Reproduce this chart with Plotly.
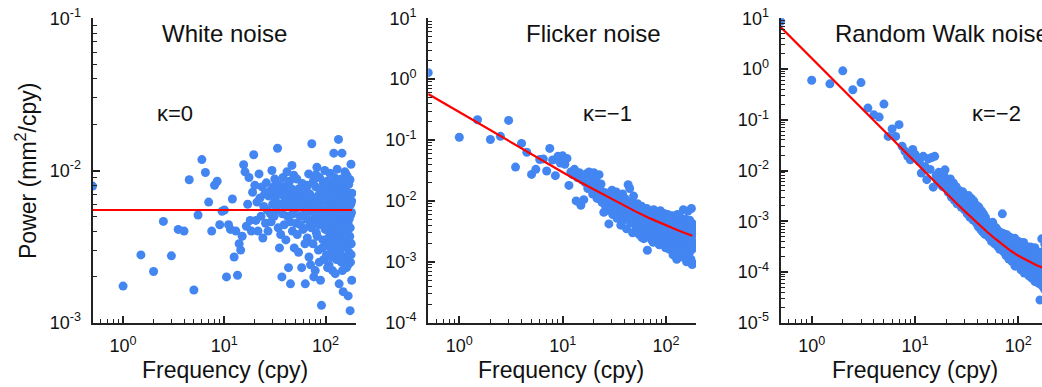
import plotly.graph_objects as go

# ---------------- shared frequency grid (cpy) ----------------
F_LOW = [0.5, 1.0, 1.5, 2.0, 2.5, 3.0, 3.5, 4.0, 4.5, 5.0, 5.5, 6.0, 6.5, 7.0, 7.5, 8.0, 8.5, 9.0, 9.5, 10.0,
         10.5, 11.0, 11.5, 12.0, 12.5, 13.0, 13.5, 14.0, 14.5, 15.0, 15.5, 16.0, 16.5, 17.0, 17.5, 18.0, 18.5, 19.0, 19.5, 20.0,
         20.5, 21.0, 21.5, 22.0, 22.5, 23.0, 23.5, 24.0, 24.5, 25.0, 25.5, 26.0, 26.5, 27.0, 27.5, 28.0, 28.5, 29.0, 29.5, 30.0,
         30.5, 31.0, 31.5, 32.0, 32.5, 33.0, 33.5, 34.0, 34.5, 35.0, 35.5, 36.0, 36.5, 37.0, 37.5, 38.0, 38.5, 39.0, 39.5, 40.0,
         40.5, 41.0, 41.5, 42.0, 42.5, 43.0, 43.5, 44.0, 44.5, 45.0, 45.5, 46.0, 46.5, 47.0, 47.5, 48.0, 48.5, 49.0, 49.5, 50.0]
F_HI = [51, 52, 53, 54, 55, 56, 57, 58, 59, 60, 61, 62, 63, 64, 65, 66, 67, 68, 69, 70,
        71, 72, 73, 74, 75, 76, 77, 78, 79, 80, 81, 82, 83, 84, 85, 86, 87, 88, 89, 90,
        91, 92, 93, 94, 95, 96, 97, 98, 99, 100]
F_HI_HALF = [50.5, 52.5, 54.5, 56.5, 58.5, 60.5, 62.5, 64.5, 66.5, 68.5, 70.5, 72.5, 74.5,
             76.5, 78.5, 80.5, 82.5, 84.5, 86.5, 88.5, 90.5, 92.5, 94.5, 96.5, 98.5]
F_TOP = [101, 102, 103, 104, 105, 106, 107, 108, 109, 110, 111, 112, 113, 114, 115, 116, 117, 118, 119, 120,
         121, 122, 123, 124, 125, 126, 127, 128, 129, 130, 131, 132, 133, 134, 135, 136, 137, 138, 139, 140,
         141, 142, 143, 144, 145, 146, 147, 148, 149, 150, 151, 152, 153, 154, 155, 156, 157, 158, 159, 160,
         161, 162, 163, 164, 165, 166, 167, 168, 169, 170, 171, 172, 173, 174, 175, 176, 177, 178, 179, 180,
         181, 182]
F_TOP_HALF = [100.5, 102.5, 104.5, 106.5, 108.5, 110.5, 112.5, 114.5, 116.5, 118.5,
              120.5, 122.5, 124.5, 126.5, 128.5, 130.5, 132.5, 134.5, 136.5, 138.5,
              140.5, 142.5, 144.5, 146.5, 148.5, 150.5, 152.5, 154.5, 156.5, 158.5,
              160.5, 162.5, 164.5, 166.5, 168.5, 170.5, 172.5, 174.5, 176.5, 178.5, 180.5]

# ---------------- White noise power (mm^2/cpy) ----------------
white_low = [0.0079, 0.00174, 0.00279, 0.00217, 0.00463, 0.00275, 0.0041, 0.0040, 0.0087, 0.00164,
             0.0051, 0.0118, 0.0097, 0.0062, 0.0040, 0.0080, 0.0085, 0.0044, 0.0054, 0.0055,
             0.0020, 0.0044, 0.0041, 0.0065, 0.0027, 0.0040, 0.00205, 0.0033, 0.0030, 0.0037,
             0.0109, 0.0098, 0.0043, 0.0060, 0.0090, 0.0047, 0.0040, 0.0072, 0.0127, 0.0080,
             0.0047, 0.0062, 0.0040, 0.0095,
             0.0066, 0.0050, 0.0078, 0.0036, 0.0058, 0.0070, 0.0045, 0.0083, 0.0055, 0.0040,
             0.0068, 0.0073, 0.0052, 0.0046, 0.0100, 0.0060, 0.0078, 0.0050, 0.0088, 0.0066,
             0.0055, 0.0072, 0.0140, 0.0042, 0.0081, 0.0031,
             0.0060, 0.0038, 0.0074, 0.0020, 0.0052, 0.0090, 0.0068, 0.0044, 0.0058, 0.0079,
             0.0035, 0.0064, 0.0098, 0.0050, 0.0071, 0.0023, 0.0062, 0.0085, 0.0046, 0.0018,
             0.0057, 0.0076, 0.0108, 0.0040, 0.0067, 0.0052, 0.0093, 0.0031, 0.0061, 0.0072]
white_hi = [0.0045, 0.0088, 0.0057, 0.0029, 0.0070, 0.0050, 0.0063, 0.0023, 0.0082, 0.0041,
            0.0066, 0.0055, 0.0018, 0.0075, 0.0048, 0.0036, 0.0060, 0.0095, 0.0043, 0.0070,
            0.0024, 0.0054, 0.0150, 0.0065, 0.0033, 0.0086, 0.0047, 0.0059, 0.0022, 0.0078,
            0.0039, 0.0105, 0.0052, 0.0068, 0.0030, 0.0044, 0.0090, 0.0057, 0.0019, 0.0072,
            0.0013, 0.0048, 0.0063, 0.0035, 0.0083, 0.0026, 0.0055, 0.0100, 0.0041, 0.0067]
white_hi_half = [0.0062, 0.0038, 0.0076, 0.0044, 0.0058, 0.0071, 0.0033, 0.0050, 0.0080, 0.0027,
                 0.0056, 0.0042, 0.0061, 0.0020, 0.0049, 0.0094, 0.0037, 0.0060, 0.0025, 0.0074,
                 0.0051, 0.0031, 0.0066, 0.0045, 0.0032]
white_top = [0.0052, 0.0028, 0.0085, 0.0045, 0.0061, 0.0036, 0.0073, 0.0024, 0.0057, 0.0096,
             0.0040, 0.0066, 0.0031, 0.0050, 0.0080, 0.0043, 0.0022, 0.0059, 0.0070, 0.0035,
             0.0047, 0.0090, 0.0029, 0.0063, 0.0054, 0.0038, 0.0076, 0.0026, 0.0049, 0.0102,
             0.0042, 0.0068, 0.0033, 0.0160, 0.0056, 0.0018, 0.0046, 0.0078, 0.0030, 0.0061,
             0.0040, 0.0088, 0.0025, 0.0052, 0.0130, 0.0036, 0.0071, 0.0047, 0.0016, 0.0058,
             0.0083, 0.0032, 0.0065, 0.0043, 0.0098, 0.0027, 0.0055, 0.0074, 0.0038, 0.0062,
             0.0023, 0.0050, 0.0092, 0.0034, 0.0068, 0.0045, 0.0015, 0.0057, 0.0081, 0.0029,
             0.0048, 0.0065, 0.0037, 0.0087, 0.0042, 0.0025, 0.0060, 0.0110, 0.0033, 0.0053,
             0.0019, 0.0071]
white_top_half = [0.0079, 0.0041, 0.0023, 0.0064, 0.0047, 0.0033, 0.0055, 0.0027, 0.0072, 0.0039,
                  0.0130, 0.0050, 0.0021, 0.0058, 0.0085, 0.0031, 0.0046, 0.0066, 0.0040, 0.0028,
                  0.0052, 0.0036, 0.0075, 0.0022, 0.0044, 0.0035, 0.0060, 0.0026, 0.0048, 0.0095,
                  0.0039, 0.0031, 0.0056, 0.0024, 0.0042, 0.0069, 0.0034, 0.0012, 0.0051, 0.0028,
                  0.0063]

# ---------------- Flicker noise power ----------------
flicker_low = [1.28, 0.111, 0.216, 0.102, 0.115, 0.21, 0.036, 0.088, 0.063, 0.0273,
               0.033, 0.048, 0.049, 0.031, 0.073, 0.047, 0.026, 0.054, 0.042,
               0.055, 0.040, 0.050, 0.018, 0.030, 0.027, 0.033, 0.010, 0.024, 0.029,
               0.0085, 0.022, 0.0105, 0.020, 0.028, 0.016, 0.030, 0.019, 0.024, 0.013,
               0.029, 0.017, 0.022, 0.011, 0.015, 0.027, 0.012, 0.019, 0.0095, 0.014, 0.0065,
               0.0105, 0.0082, 0.0135, 0.0070, 0.0112, 0.0042, 0.0090, 0.0125, 0.0078, 0.0150,
               0.0060, 0.0100, 0.0085, 0.0115, 0.0067, 0.0140, 0.0052, 0.0093, 0.0074, 0.0122,
               0.0058, 0.0088, 0.0040, 0.0102, 0.0069, 0.0130, 0.0048, 0.0081, 0.0062, 0.0110,
               0.0055, 0.0075, 0.0035, 0.0095, 0.0065, 0.0185, 0.0050, 0.0083, 0.0160, 0.0060,
               0.0044, 0.0072, 0.0098, 0.0054, 0.0030, 0.0068, 0.0120, 0.0047, 0.0078, 0.0058]
flicker_hi = [0.0038, 0.0070, 0.0090, 0.0046, 0.0028, 0.0063, 0.0052, 0.0082, 0.0036, 0.0057,
              0.0024, 0.0068, 0.0044, 0.0032, 0.0075, 0.00155, 0.0050, 0.0060, 0.0039, 0.0027,
              0.0065, 0.0046, 0.0034, 0.0055, 0.0021, 0.0072, 0.0042, 0.0030, 0.0052, 0.0038,
              0.0061, 0.0025, 0.0047, 0.0035, 0.0058, 0.0019, 0.0043, 0.0069, 0.0031, 0.0050,
              0.0026, 0.0040, 0.0056, 0.0022, 0.0037, 0.0062, 0.0029, 0.0045, 0.0017, 0.0034]
flicker_hi_half = [0.0053, 0.0033, 0.0078, 0.0041, 0.0025, 0.0049, 0.0037, 0.0055, 0.0030, 0.0045,
                   0.0052, 0.0023, 0.0040, 0.0033, 0.0064, 0.0028, 0.0044, 0.0031, 0.0054, 0.0024,
                   0.0039, 0.0030, 0.0047, 0.0020, 0.0036]
flicker_top = [0.0048, 0.0027, 0.0039, 0.0060, 0.0022, 0.0034, 0.0044, 0.0016, 0.0030, 0.0052,
               0.0025, 0.0037, 0.0020, 0.0045, 0.0031, 0.0057, 0.0013, 0.0028, 0.0040, 0.0023,
               0.0035, 0.0050, 0.0019, 0.0032, 0.0043, 0.0026, 0.0011, 0.0038, 0.0060, 0.0021,
               0.0030, 0.0047, 0.0024, 0.0016, 0.0036, 0.0055, 0.0028, 0.0041, 0.0018, 0.0033,
               0.0025, 0.0046, 0.0012, 0.0030, 0.0039, 0.0021, 0.0072, 0.0027, 0.0035, 0.0015,
               0.0043, 0.0024, 0.0031, 0.0050, 0.0019, 0.0037, 0.0026, 0.0010, 0.0033, 0.0045,
               0.0022, 0.0029, 0.0068, 0.0017, 0.0034, 0.0025, 0.0040, 0.0014, 0.0031, 0.0048,
               0.0021, 0.0027, 0.0038, 0.0011, 0.0030, 0.0075, 0.0023, 0.0035, 0.00090, 0.0028,
               0.0042, 0.0019]
flicker_top_half = [0.0030, 0.0043, 0.0036, 0.0024, 0.0049, 0.0029, 0.0041, 0.0017, 0.0033, 0.0022,
                    0.0046, 0.0028, 0.0015, 0.0039, 0.0025, 0.0034, 0.0019, 0.0044, 0.0026, 0.0031,
                    0.0050, 0.0020, 0.0027, 0.0037, 0.0013, 0.0032, 0.0041, 0.0023, 0.0029, 0.0047,
                    0.0018, 0.0036, 0.0025, 0.0010, 0.0039, 0.0027, 0.0044, 0.0020, 0.0032, 0.0016,
                    0.00095]

# ---------------- Random walk noise power ----------------
rw_low = [8.7, 0.60, 0.51, 0.92, 0.39, 0.54, 0.17, 0.125, 0.113, 0.204,
          0.047, 0.066, 0.047, 0.080, 0.030,
          0.024, 0.019, 0.0163, 0.026, 0.021, 0.018, 0.015, 0.0089, 0.019, 0.012,
          0.0066, 0.017, 0.0105, 0.018, 0.0047, 0.019, 0.0080, 0.0061, 0.0092, 0.0055,
          0.0070, 0.0048, 0.0083, 0.0103, 0.0045, 0.0060, 0.0037, 0.0052, 0.0068, 0.0030,
          0.0043, 0.0057, 0.0026, 0.0036, 0.0048, 0.0022, 0.0031, 0.0041, 0.0027, 0.0035,
          0.0019, 0.0029, 0.0038, 0.0024, 0.0017, 0.0031, 0.0021, 0.0027, 0.0014, 0.0024,
          0.0032, 0.0018, 0.0012, 0.0022, 0.0028, 0.0016, 0.0020, 0.00105, 0.0025, 0.0014,
          0.0018, 0.0011, 0.0021, 0.00090, 0.0016, 0.0012, 0.00078, 0.0019, 0.0010, 0.0014,
          0.00070, 0.0012, 0.0016, 0.00088, 0.00062, 0.0011, 0.0014, 0.00075, 0.00095, 0.00055,
          0.0012, 0.00068, 0.00085, 0.0010, 0.00058]
rw_hi = [0.00072, 0.00048, 0.00090, 0.00060, 0.00040, 0.00078, 0.00052, 0.00066, 0.00036, 0.00058,
         0.00045, 0.00070, 0.00032, 0.00050, 0.00062, 0.00028, 0.00044, 0.00055, 0.00037, 0.0014,
         0.00048, 0.00025, 0.00040, 0.00052, 0.00030, 0.00021, 0.00045, 0.00035, 0.00027, 0.00042,
         0.00018, 0.00033, 0.00048, 0.00024, 0.00038, 0.00029, 0.00016, 0.00036, 0.00026, 0.00044,
         0.00020, 0.00031, 0.00013, 0.00027, 0.00039, 0.00022, 0.00030, 0.00017, 0.00025, 0.00034]
rw_hi_half = [0.00085, 0.00064, 0.00047, 0.00095, 0.00042, 0.00075, 0.00053, 0.00038, 0.00060, 0.00033,
              0.00058, 0.00043, 0.00036, 0.00055, 0.00023, 0.00050, 0.00028, 0.00041, 0.00034, 0.00019,
              0.00037, 0.00046, 0.00021, 0.00035, 0.00029]
rw_top = [0.00021, 0.00028, 0.00015, 0.00032, 0.00024, 0.00011, 0.00019, 0.00036, 0.00022, 0.00014,
          0.00027, 0.00018, 0.00030, 0.000095, 0.00021, 0.00016, 0.00033, 0.00023, 0.00013, 0.00019,
          0.00026, 0.00011, 0.00017, 0.00029, 0.00020, 0.000085, 0.00015, 0.00024, 0.00013, 0.00018,
          0.00031, 0.00010, 0.00016, 0.00022, 0.00012, 0.000075, 0.00019, 0.00027, 0.00014, 0.000090,
          0.00017, 0.00023, 0.00011, 0.00015, 0.000065, 0.00020, 0.00013, 0.00026, 0.000095, 0.00016,
          0.00012, 0.00021, 0.000078, 0.00014, 0.00018, 0.00010, 0.000060, 0.00015, 0.00024, 0.00011,
          0.000085, 0.000028, 0.00017, 0.00013, 0.000070, 0.00020, 0.00010, 0.000055, 0.00014, 0.000090,
          0.00025, 0.00012, 0.000065, 0.00016, 0.000050, 0.00011, 0.00019, 0.000080, 0.00013, 0.000045,
          0.00010, 0.00017]
rw_top_half = [0.00040, 0.00017, 0.00026, 0.00034, 0.00013, 0.00024, 0.00038, 0.00016, 0.00028, 0.00010,
               0.00022, 0.00030, 0.00012, 0.00018, 0.00025, 0.000080, 0.00014, 0.00028, 0.00017, 0.00011,
               0.00021, 0.00015, 0.00030, 0.00012, 0.00018, 0.000080, 0.00013, 0.00022, 0.00015, 0.000070,
               0.00019, 0.00012, 0.000090, 0.00016, 0.00045, 0.00013, 0.000060, 0.00010, 0.00020, 0.000065,
               0.00035]

# ---------------- fitted model curves ----------------
white_fit_f = [0.5, 182.5]
white_fit_p = [0.0055, 0.0055]
flicker_fit_f = [0.5, 1, 2, 3, 5, 7, 10, 15, 20, 30, 40, 50, 70, 100, 130, 150, 180]
flicker_fit_p = [0.571, 0.286, 0.1436, 0.0961, 0.0581, 0.0418, 0.0296, 0.0201, 0.0154, 0.0106,
                 0.00823, 0.0068, 0.00517, 0.00395, 0.00329, 0.0030, 0.00268]
rw_fit_f = [0.5, 1, 2, 3, 5, 7, 10, 15, 20, 25, 30, 40, 50, 60, 70, 85, 100, 130, 150, 170, 185]
rw_fit_p = [6.7, 1.62, 0.391, 0.170, 0.0598, 0.0300, 0.0145, 0.00637, 0.00357, 0.00229, 0.0016,
            0.000923, 0.000613, 0.000447, 0.000347, 0.000259, 0.000209, 0.000155, 0.000136,
            0.000123, 0.000117]

# ---------------- tick labels ----------------
Y1_TICKS = [0.001, 0.01, 0.1]
Y1_LABELS = ["10<sup>-3</sup>", "10<sup>-2</sup>", "10<sup>-1</sup>"]
Y2_TICKS = [1e-4, 1e-3, 1e-2, 1e-1, 1, 10]
Y2_LABELS = ["10<sup>-4</sup>", "10<sup>-3</sup>", "10<sup>-2</sup>", "10<sup>-1</sup>", "10<sup>0</sup>", "10<sup>1</sup>"]
Y3_TICKS = [1e-5, 1e-4, 1e-3, 1e-2, 1e-1, 1, 10]
Y3_LABELS = ["10<sup>-5</sup>", "10<sup>-4</sup>", "10<sup>-3</sup>", "10<sup>-2</sup>", "10<sup>-1</sup>", "10<sup>0</sup>", "10<sup>1</sup>"]
X_TICKS = [1, 10, 100]
X_LABELS = ["10<sup>0</sup>", "10<sup>1</sup>", "10<sup>2</sup>"]

TITLES = ["White noise", "Flicker noise", "Random Walk noise"]
KAPPAS = ["\u03ba=0", "\u03ba=\u22121", "\u03ba=\u22122"]

# ---------------- figure ----------------
W, H = 1042, 387
DOT = "#4386F2"
FONT = "Liberation Sans, Arial, Helvetica, sans-serif"
AX = "#222222"


def cat(a, b, c, d, e):
    return list(a) + list(b) + list(c) + list(d) + list(e)


freq_all = cat(F_LOW, F_HI, F_HI_HALF, F_TOP, F_TOP_HALF)
series = [
    cat(white_low, white_hi, white_hi_half, white_top, white_top_half),
    cat(flicker_low, flicker_hi, flicker_hi_half, flicker_top, flicker_top_half),
    cat(rw_low, rw_hi, rw_hi_half, rw_top, rw_top_half),
]
fits = [(white_fit_f, white_fit_p), (flicker_fit_f, flicker_fit_p), (rw_fit_f, rw_fit_p)]

fig = go.Figure()
for i in range(3):
    xa = "x" if i == 0 else "x%d" % (i + 1)
    ya = "y" if i == 0 else "y%d" % (i + 1)
    fig.add_trace(go.Scatter(x=freq_all, y=series[i], mode="markers", xaxis=xa, yaxis=ya,
                             marker=dict(size=9, color=DOT, line=dict(width=0)),
                             hoverinfo="skip"))
    fig.add_trace(go.Scatter(x=fits[i][0], y=fits[i][1], mode="lines", xaxis=xa, yaxis=ya,
                             line=dict(color="#FF0000", width=2.2), hoverinfo="skip"))


def minor_vals(lo, hi):
    vals = []
    for e in range(lo, hi):
        for m in range(2, 10):
            vals.append(m * 10.0 ** e)
    return vals


def axis_style(tickvals, ticktext, rng, dom, minor, anchor, standoff):
    return dict(type="log", range=rng, domain=dom, anchor=anchor, automargin=False,
                showline=True, linecolor=AX, linewidth=2, mirror=False,
                showgrid=False, zeroline=False,
                ticks="inside", ticklen=7, tickwidth=1.5, tickcolor=AX,
                tickmode="array", tickvals=tickvals, ticktext=ticktext,
                ticklabelstandoff=standoff,
                tickfont=dict(family=FONT, size=18, color="#111"),
                minor=dict(ticks="inside", ticklen=4, tickwidth=1, tickcolor=AX,
                           tickmode="array", tickvals=minor, showgrid=False))


ydom = [1 - 322.7 / H, 1 - 18.3 / H]
xdoms = [[92.6 / W, 356 / W], [428.2 / W, 696 / W], [780.6 / W, 1.0]]
xranges = [[-0.301, 2.30], [-0.301, 2.29], [-0.301, 2.229]]
yranges = [[-3, -1], [-4, 1], [-5, 1]]
yticks = [(Y1_TICKS, Y1_LABELS, -3, -1), (Y2_TICKS, Y2_LABELS, -4, 1), (Y3_TICKS, Y3_LABELS, -5, 1)]

layout = dict(width=W, height=H, autosize=False, margin=dict(l=0, r=0, t=0, b=0, pad=0),
              paper_bgcolor="white", plot_bgcolor="white", showlegend=False,
              font=dict(family=FONT, color="#111"))
for i in range(3):
    xk = "xaxis" if i == 0 else "xaxis%d" % (i + 1)
    yk = "yaxis" if i == 0 else "yaxis%d" % (i + 1)
    xa = "x" if i == 0 else "x%d" % (i + 1)
    ya = "y" if i == 0 else "y%d" % (i + 1)
    layout[xk] = axis_style(X_TICKS, X_LABELS, xranges[i], xdoms[i], minor_vals(-1, 3), ya, 6)
    tv, tt, lo, hi = yticks[i]
    layout[yk] = axis_style(tv, tt, yranges[i], ydom, minor_vals(lo, hi), xa, 6)
fig.update_layout(**layout)

ann = []
title_x = [(224, "center"), (593, "center"), (833, "left")]
kappa_x = [175, 607, 996]
xlabel_x = [224.5, 561, 915]
for i in range(3):
    ann.append(dict(text=TITLES[i], x=title_x[i][0] / W, y=1 - 33 / H, xref="paper", yref="paper",
                    xanchor=title_x[i][1], yanchor="middle", showarrow=False,
                    font=dict(family=FONT, size=24, color="#111")))
    ann.append(dict(text=KAPPAS[i], x=kappa_x[i] / W, y=1 - 113 / H, xref="paper", yref="paper",
                    xanchor="center", yanchor="middle", showarrow=False,
                    font=dict(family=FONT, size=22, color="#111")))
    ann.append(dict(text="Frequency (cpy)", x=xlabel_x[i] / W, y=1 - 370 / H, xref="paper", yref="paper",
                    xanchor="center", yanchor="middle", showarrow=False,
                    font=dict(family=FONT, size=23, color="#111")))
ann.append(dict(text="Power (mm<sup>2</sup>/cpy)", x=26 / W, y=1 - 171 / H, xref="paper", yref="paper",
                xanchor="center", yanchor="middle", showarrow=False, textangle=-90,
                font=dict(family=FONT, size=23, color="#111")))
fig.update_layout(annotations=ann)

fig.write_html("out.html")
